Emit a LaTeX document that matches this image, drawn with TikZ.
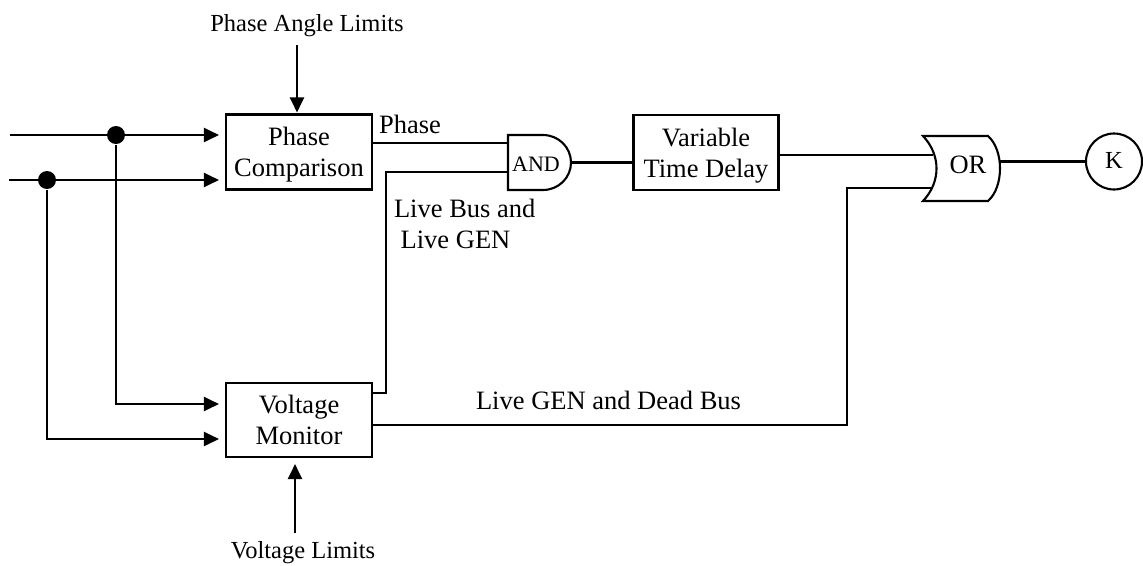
\documentclass[tikz,border=0pt]{standalone}
\usepackage{fontspec}
\setmainfont{Liberation Serif}
\usetikzlibrary{arrows.meta}
\begin{document}
\begin{tikzpicture}[x=1pt, y=-1pt, line width=2.1pt,
  every node/.style={inner sep=0pt},
  txt/.style={font=\fontsize{26.5}{31}\selectfont},
  small/.style={font=\fontsize{24.5}{29}\selectfont},
  blk/.style={draw, txt, align=center, minimum width=146pt, minimum height=75pt},
  arr/.style={-{Triangle[length=15pt,width=14pt]}},
  joint/.style={circle, fill, minimum size=18pt}]
\useasboundingbox (0,0) rectangle (1143,565);

% processing blocks
\node[blk] (pc) at (299,152) {Phase\\\smash{Comparison}};
\node[blk, minimum height=74pt] (vm) at (299,420) {Voltage\\\smash{Monitor}};
\node[blk, minimum width=145pt] (vtd) at (706,152.5) {Variable\\\smash{Time Delay}};
\node[draw, circle, minimum size=56pt, font=\fontsize{24.5}{28}\selectfont] (k) at (1114,161.5) {\raisebox{3pt}{K}};

% AND gate
\coordinate (and1) at (508,143);
\coordinate (and2) at (508,172);
\coordinate (andout) at (571,162.5);
\draw (508,135) -- (543,135) .. controls (558.5,135) and (571,147.3) .. (andout)
  .. controls (571,177.7) and (558.5,190) .. (543,190) -- (508,190) -- cycle;
\node[font=\fontsize{22}{26}\selectfont, anchor=base] (andl) at (536,171.7) {AND};

% OR gate
\coordinate (or1) at (933,155);
\coordinate (or2) at (931.5,188.3);
\coordinate (orout) at (1000,161.5);
\draw (923,136) -- (988,136) .. controls (1004,150) and (1004,187) .. (988,201)
  -- (923,201) .. controls (941,182) and (941,155) .. (923,136) -- cycle;
\node[txt, anchor=base] (orl) at (968,173.3) {OR};

% labels
\node[small, anchor=base] (pal) at (307,31.7) {Phase Angle Limits};
\node[small, anchor=base] (vl) at (303,558) {Voltage Limits};
\node[txt, anchor=base west] (lph) at (378,133) {Phase};
\node[txt, anchor=north west, align=left] (lbl) at (393,198) {Live Bus and\\\hspace*{0.25em}Live GEN};
\node[txt, anchor=base west] (lgd) at (475,409) {Live GEN and Dead Bus};

% inputs and branch points
\coordinate (in1) at (10,135);
\coordinate (in2) at (9,180);
\node[joint] (d1) at (116,135) {};
\node[joint] (d2) at (47,180) {};
\coordinate (vin1) at (0,404);
\coordinate (vin2) at (0,439);
\coordinate (palA) at (297,45);
\coordinate (vlA) at (295,533);

\draw[arr, shorten >=6pt] (in1) -- (pc.west |- in1);
\draw[arr, shorten >=6pt] (in2) -- (pc.west |- in2);
\draw[arr, shorten >=6pt] (d1) |- (vm.west |- vin1);
\draw[arr, shorten >=6pt] (d2) |- (vm.west |- vin2);
\draw[arr, shorten >=1pt] (palA) -- (pc.north -| palA);
\draw[arr, shorten >=6pt] (vlA) -- (vm.south -| vlA);

% logic wiring
\coordinate (j1) at (386,393);
\coordinate (j2) at (847,425);
\draw (pc.east |- and1) -- (and1);
\draw (vm.east |- j1) -- (j1) |- (and2);
\draw (andout) -- (vtd.west |- andout);
\draw (vtd.east |- or1) -- (or1);
\draw (vm.east |- j2) -- (j2) |- (or2);
\draw (orout) -- (k.west);
\end{tikzpicture}
\end{document}
